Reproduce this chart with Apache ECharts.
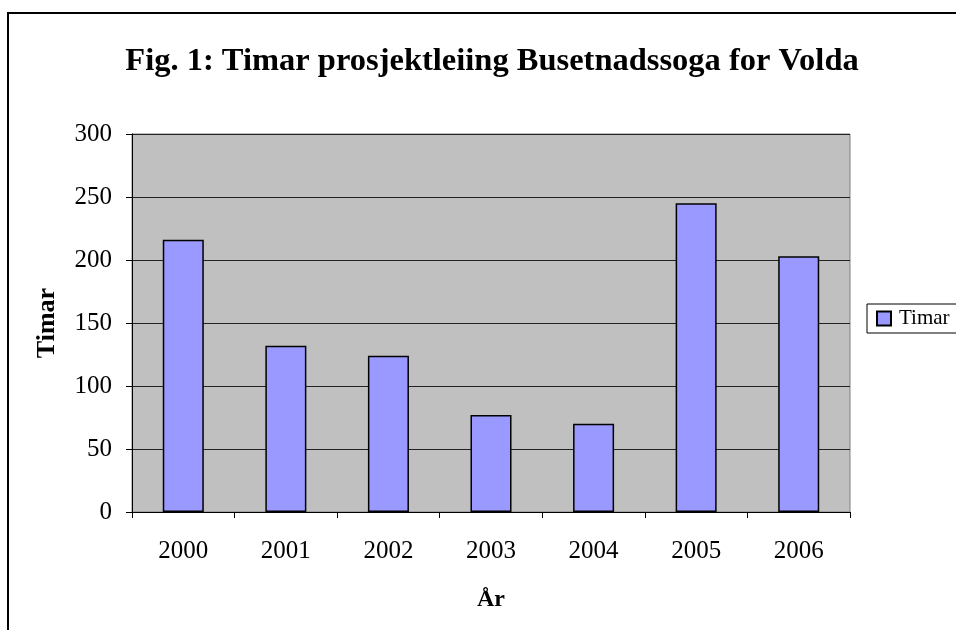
<!DOCTYPE html>
<html>
<head>
<meta charset="utf-8">
<script src="https://cdn.jsdelivr.net/npm/echarts@6/dist/echarts.min.js"></script>
<style>
  html, body { margin: 0; padding: 0; background: #fff; }
  #main { width: 956px; height: 630px; }
</style>
</head>
<body>
<div id="main"></div>
<script>
var years = ['2000', '2001', '2002', '2003', '2004', '2005', '2006'];
var timar = [216, 132, 124, 77, 70, 245, 203];
var yTicks = { min: 0, max: 300, interval: 50 };

var serif = '"Liberation Serif", "DejaVu Serif", serif';

var chart = echarts.init(document.getElementById('main'));
chart.setOption({
    backgroundColor: '#fff',
    animation: false,
    graphic: [{
        type: 'rect',
        shape: { x: 8, y: 13, width: 1000, height: 700 },
        style: { fill: 'none', stroke: '#000', lineWidth: 2 },
        silent: true
    }],
    title: {
        text: 'Fig. 1: Timar prosjektleiing Busetnadssoga for Volda',
        left: 487,
        textAlign: 'center',
        top: 40,
        textStyle: { fontFamily: serif, fontWeight: 'bold', fontSize: 32.5, color: '#000' }
    },
    legend: {
        data: ['Timar'],
        left: 867,
        top: 304,
        orient: 'vertical',
        backgroundColor: '#fff',
        borderColor: '#000',
        borderWidth: 1,
        borderRadius: 0,
        padding: [4, 10, 4, 9],
        itemWidth: 14,
        itemHeight: 14,
        icon: 'rect',
        textStyle: { fontFamily: serif, fontSize: 21, color: '#000', padding: [0, 0, 0, 3] }
    },
    grid: {
        left: 132,
        top: 134,
        width: 718,
        height: 378,
        show: true,
        backgroundColor: '#c0c0c0',
        borderColor: '#808080',
        borderWidth: 1
    },
    xAxis: {
        type: 'category',
        data: years,
        name: 'År',
        nameLocation: 'middle',
        nameGap: 76,
        nameTextStyle: { fontFamily: serif, fontWeight: 'bold', fontSize: 24, color: '#000' },
        axisLine: { lineStyle: { color: '#000', width: 1 } },
        axisTick: { show: true, length: 6, lineStyle: { color: '#000' } },
        axisLabel: { fontFamily: serif, fontSize: 25, color: '#000', margin: 27 },
        splitLine: { show: false }
    },
    yAxis: {
        type: 'value',
        min: yTicks.min,
        max: yTicks.max,
        interval: yTicks.interval,
        name: 'Timar',
        nameLocation: 'middle',
        nameGap: 72,
        nameRotate: 90,
        nameTextStyle: { fontFamily: serif, fontWeight: 'bold', fontSize: 26, color: '#000' },
        axisLine: { show: true, lineStyle: { color: '#000', width: 1 } },
        axisTick: { show: true, length: 6, lineStyle: { color: '#000' } },
        axisLabel: { fontFamily: serif, fontSize: 25, color: '#000', margin: 20 },
        splitLine: { show: true, lineStyle: { color: '#222', width: 1 } }
    },
    series: [{
        name: 'Timar',
        type: 'bar',
        data: timar,
        barWidth: '40%',
        itemStyle: { color: '#9999ff', borderColor: '#000', borderWidth: 1.5 }
    }]
});
</script>
</body>
</html>
